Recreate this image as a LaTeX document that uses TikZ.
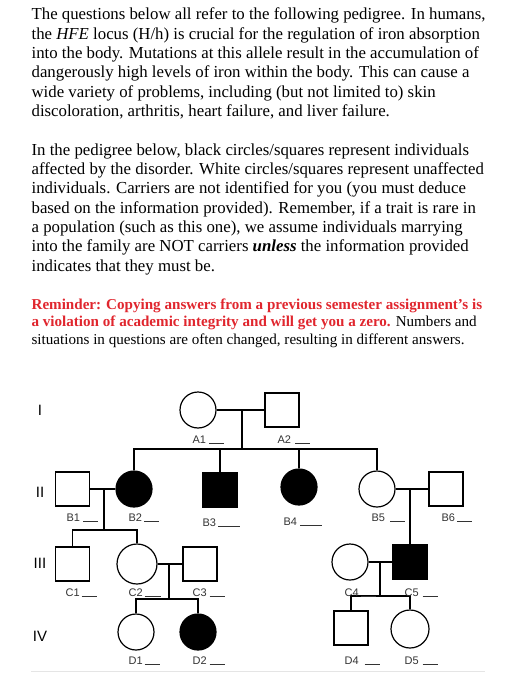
\documentclass[tikz,border=0pt]{standalone}
\usepackage{fontspec}
\setmainfont{Liberation Serif}
\newfontfamily\pedfont{Liberation Sans}
\usetikzlibrary{positioning}
\definecolor{remindred}{HTML}{E0262E}
\newcommand{\blank}[1]{\rule[-0.5pt]{#1pt}{0.6pt}}

\begin{document}
\begin{tikzpicture}[
  x=1pt, y=-1pt,
  line width=1.2pt,
  every node/.style={inner sep=0pt},
  male/.style={draw, rectangle, minimum size=34pt},
  female/.style={draw, circle, minimum size=36pt},
  affected/.style={fill=black},
  tag/.style={font=\pedfont\fontsize{11}{13}\selectfont, text=black!80, anchor=base west},
  gen/.style={font=\pedfont\fontsize{15}{17}\selectfont},
  para/.style={align=left, anchor=base west, font=\fontsize{16.8}{19.3}\selectfont},
]
\useasboundingbox (0,0) rectangle (518,700);

% Question text (anchored at the baseline of the last line)
\node[para] (intro) at (31,116.5) {The questions below all refer to the following pedigree. In humans,\\
the \textit{HFE} locus (H/h) is crucial for the regulation of iron absorption\\
into the body. Mutations at this allele result in the accumulation of\\
dangerously high levels of iron within the body. This can cause a\\
wide variety of problems, including (but not limited to) skin\\
discoloration, arthritis, heart failure, and liver failure.};

\node[para] (legend) at (31,271) {In the pedigree below, black circles/squares represent individuals\\
affected by the disorder. White circles/squares represent unaffected\\
individuals. Carriers are not identified for you (you must deduce\\
based on the information provided). Remember, if a trait is rare in\\
a population (such as this one), we assume individuals marrying\\
into the family are NOT carriers \textbf{\textit{unless}} the information provided\\
indicates that they must be.};

\node[para, font=\fontsize{15.1}{17.5}\selectfont] (reminder) at (31,344) {{\bfseries\color{remindred}Reminder: Copying answers from a previous semester assignment’s is}\\
{\bfseries\color{remindred}a violation of academic integrity and will get you a zero.} Numbers and\\
situations in questions are often changed, resulting in different answers.};

% Generation numbers
\node[gen] (genI) at (40,410) {I};
\node[gen] (genII) at (40,492) {II};
\node[gen] (genIII) at (40,563) {III};
\node[gen] (genIV) at (40,636) {IV};

% Generation I
\node[female] (a1) at (198,410) {};
\node[male] (a2) at (282,410) {};
\draw (a1) -- (a2);
\coordinate (a12) at (242,410);
\coordinate (sibB) at (242,449);
\draw (a12) -- (sibB);

% Generation II
\node[male] (b1) at (72.5,489) {};
\node[female, affected] (b2) at (134,489) {};
\node[male, affected] (b3) at (220,490) {};
\node[female, affected] (b4) at (299,487) {};
\node[female] (b5) at (377,489) {};
\node[male] (b6) at (446,489) {};
\draw (b2) |- (sibB) -| (b5);
\draw (b3.north) -- (b3.north |- sibB);
\draw (b4.north) -- (b4.north |- sibB);
\draw (b1) -- (b2);
\draw (b5) -- (b6);
\coordinate (b12) at (104,489);
\coordinate (sibC) at (104,530);
\draw (b12) -- (sibC);
\coordinate (b56) at (410,489);

% Generation III
\node[male] (c1) at (72.5,564) {};
\node[female, minimum width=40pt] (c2) at (137,564) {};
\node[male] (c3) at (200,564) {};
\node[female] (c4) at (350,562) {};
\node[male, affected] (c5) at (410,562) {};
\draw (c1) |- (sibC) -| (c2);
\draw (b56) -- (c5);
\draw (c2) -- (c3);
\draw (c4) -- (c5);
\coordinate (c23) at (169,564);
\coordinate (sibD) at (169,599);
\draw (c23) -- (sibD);
\coordinate (c45) at (380,562);
\coordinate (sibE) at (380,596);
\draw (c45) -- (sibE);

% Generation IV
\node[female] (d1) at (136,632) {};
\node[female, affected] (d2) at (198,632) {};
\node[male] (d4) at (351,628) {};
\node[female, minimum width=38pt] (d5) at (410,629) {};
\draw (d1) |- (sibD) -| (d2);
\draw (d4) |- (sibE) -| (d5);

% Individual labels
\node[tag] (a1tag) at (192,443) {A1\kern3pt\blank{15}};
\node[tag] (a2tag) at (277,443) {A2\kern4pt\blank{15}};
\node[tag] (b1tag) at (66,521) {B1\kern3pt\blank{15}};
\node[tag] (b2tag) at (128,521) {B2\kern2pt\blank{15}};
\node[tag] (b3tag) at (202,526) {B3\kern2pt\blank{22}};
\node[tag] (b4tag) at (283,525) {B4\kern3pt\blank{22}};
\node[tag] (b5tag) at (371,521) {B5\kern5pt\blank{15}};
\node[tag] (b6tag) at (441,521) {B6\kern2pt\blank{15}};
\node[tag] (c1tag) at (65,596) {C1\kern2pt\blank{15}};
\node[tag] (c2tag) at (128,596) {C2\kern2pt\blank{16}};
\node[tag] (c3tag) at (192,596) {C3\kern3pt\blank{15}};
\node[tag] (c4tag) at (344,596) {C4\kern2pt\blank{15}};
\node[tag] (c5tag) at (404,596) {C5\kern4pt\blank{15}};
\node[tag] (d1tag) at (128,664) {D1\kern2pt\blank{15}};
\node[tag] (d2tag) at (192,664) {D2\kern3pt\blank{15}};
\node[tag] (d4tag) at (344,664) {D4\kern6pt\blank{15}};
\node[tag] (d5tag) at (404,664) {D5\kern4pt\blank{15}};

% faint rule under the pedigree
\draw[gray!20, line width=0.5pt] (31,671) -- (485,671);

\end{tikzpicture}
\end{document}
